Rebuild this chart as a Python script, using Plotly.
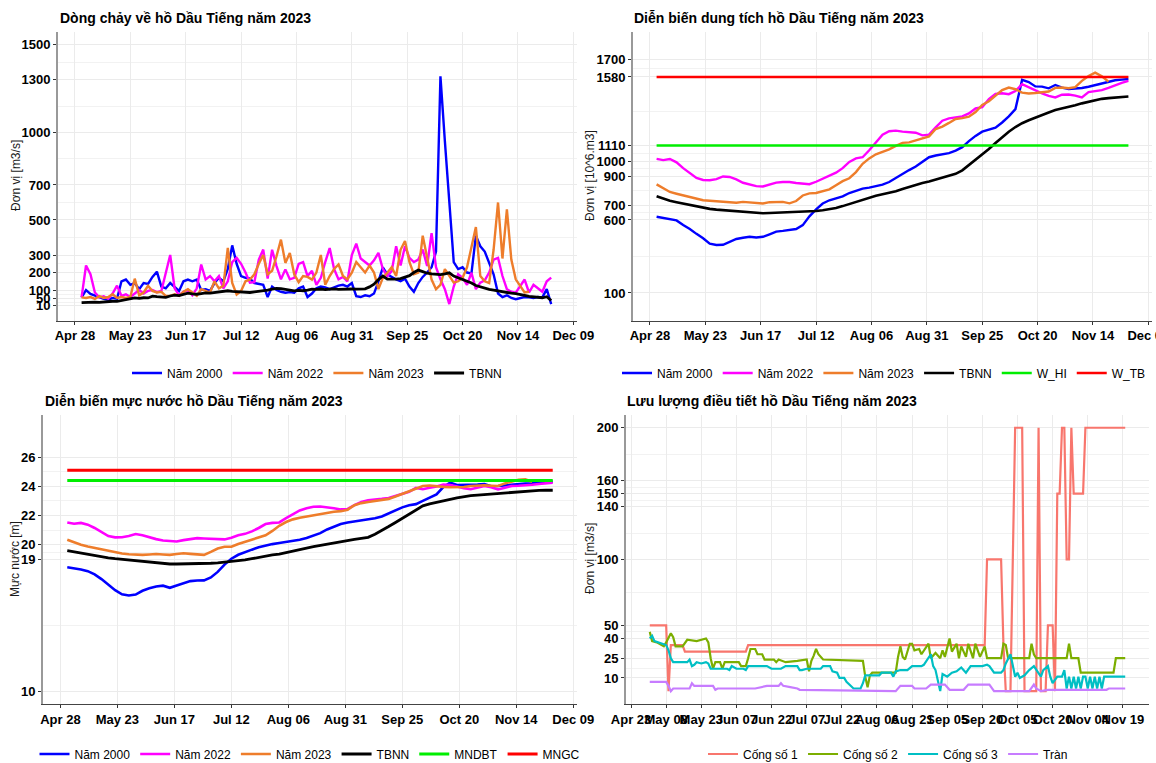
import pandas as pd
import plotly.graph_objects as go

START = "2023-05-01"

# ---------------- Panel 1: inflow (m3/s), one value every 2 days from May 1 ----------------
q_2000 = [58, 100, 78, 68, 60, 50, 45, 55, 50, 150,
          160, 130, 140, 105, 140, 135, 175, 205, 120, 110,
          140, 120, 95, 150, 160, 150, 160, 100, 105, 95,
          140, 170, 150, 220, 355, 250, 180, 170, 165, 140,
          135, 130, 60, 120, 100, 90, 85, 88, 85, 110,
          120, 60, 80, 110, 120, 115, 105, 115, 125, 130,
          120, 140, 65, 60, 70, 65, 80, 150, 230, 190,
          175, 160, 150, 165, 120, 90, 140, 175, 200, 230,
          320, 1320, 950, 600, 260, 220, 230, 200, 195, 410,
          350, 320, 260, 190, 80, 60, 70, 55, 48, 55,
          60, 58, 55, 60, 58, 105, 20]
q_2022 = [58, 240, 190, 86, 58, 65, 50, 80, 125, 67,
          76, 60, 80, 100, 80, 95, 100, 88, 95, 190,
          300, 110, 70, 90, 100, 70, 110, 246, 160, 180,
          150, 180, 110, 150, 260, 284, 250, 200, 142, 145,
          274, 331, 165, 330, 237, 161, 218, 161, 170, 250,
          260, 180, 210, 130, 170, 260, 340, 220, 161, 175,
          150, 300, 365, 280, 260, 240, 270, 312, 220, 180,
          208, 350, 240, 350, 284, 260, 274, 331, 237, 425,
          230, 161, 105, 20, 120, 190, 170, 130, 199, 105,
          142, 155, 200, 274, 284, 180, 105, 90, 85, 124,
          160, 86, 130, 110, 90, 150, 171]
q_2023 = [58, 55, 60, 50, 65, 55, 60, 76, 55, 60,
          55, 60, 165, 70, 86, 124, 95, 86, 90, 67,
          67, 76, 67, 90, 105, 86, 67, 105, 95, 86,
          150, 110, 124, 340, 140, 75, 95, 150, 160, 190,
          250, 300, 190, 210, 293, 388, 255, 312, 190, 145,
          180, 175, 160, 200, 300, 130, 180, 220, 246, 180,
          161, 199, 260, 230, 200, 240, 200, 105, 170, 199,
          230, 180, 330, 380, 260, 190, 199, 410, 274, 160,
          105, 130, 220, 180, 142, 150, 170, 230, 350, 460,
          180, 150, 140, 330, 600, 280, 560, 274, 161, 124,
          86, 90]
q_tbnn = [28, 30, 29, 31, 30, 33, 32, 36, 35, 40,
          43, 48, 55, 52, 56, 55, 65, 62, 60, 58,
          66, 71, 68, 75, 82, 78, 76, 80, 84, 82,
          86, 90, 94, 96, 92, 90, 92, 88, 86, 90,
          92, 96, 100, 105, 110, 108, 104, 96, 95, 98,
          96, 100, 105, 104, 106, 103, 105, 107, 104, 106,
          104, 106, 105, 104, 107, 118, 133, 160, 180, 162,
          160, 162, 165, 172, 182, 200, 214, 205, 196, 192,
          190, 188, 192, 198, 180, 170, 162, 150, 140, 126,
          118, 108, 104, 100, 95, 90, 86, 82, 80, 77,
          70, 64, 62, 58, 56, 62, 40]

# ---------------- Panel 2: storage (10^6 m3), one value every 3 days from May 1 ----------------
v_2000 = [622, 614, 606, 597, 565, 538, 505, 475, 438, 429,
          430, 450, 470, 478, 485, 480, 485, 502, 520, 525,
          529, 538, 565, 625, 672, 713, 735, 750, 762, 785,
          802, 815, 822, 830, 842, 860, 888, 915, 942, 966,
          995, 1030, 1042, 1049, 1058, 1075, 1099, 1140, 1176, 1205,
          1218, 1232, 1268, 1310, 1360, 1560, 1545, 1515, 1514, 1502,
          1525, 1507, 1497, 1500, 1504, 1513, 1524, 1539, 1550, 1557,
          1562, 1566]
v_2022 = [1019, 1010, 1018, 995, 955, 922, 888, 874, 872, 880,
          898, 895, 878, 855, 844, 832, 830, 842, 856, 860,
          860, 853, 848, 845, 862, 884, 902, 924, 955, 998,
          1022, 1030, 1078, 1130, 1185, 1208, 1212, 1205, 1203, 1198,
          1180, 1185, 1235, 1280, 1296, 1303, 1310, 1330, 1364, 1373,
          1428, 1463, 1468, 1462, 1484, 1530, 1508, 1490, 1468, 1450,
          1440, 1458, 1460, 1452, 1440, 1476, 1483, 1490, 1505, 1525,
          1540, 1553]
v_2023 = [844, 818, 792, 780, 770, 757, 745, 735, 732, 728,
          723, 719, 718, 724, 721, 717, 713, 722, 724, 724,
          714, 730, 768, 782, 785, 795, 810, 838, 866, 886,
          928, 985, 1022, 1050, 1068, 1084, 1108, 1128, 1132, 1144,
          1158, 1172, 1223, 1240, 1265, 1292, 1298, 1308, 1340, 1388,
          1414, 1450, 1490, 1507, 1496, 1473, 1467, 1470, 1477, 1480,
          1505, 1508, 1503, 1510, 1553, 1587, 1609, 1585, 1548]
v_tbnn = [763, 746, 732, 722, 713, 701, 690, 683, 676, 671,
          667, 663, 658, 653, 650, 646, 646, 648, 650, 651,
          652, 653, 654, 657, 662, 667, 674, 682, 695, 709,
          724, 740, 753, 766, 776, 786, 797, 812, 827, 840,
          853, 864, 876, 888, 899, 916, 940, 977, 1011, 1045,
          1087, 1128, 1168, 1205, 1237, 1263, 1283, 1302, 1318, 1336,
          1353, 1363, 1373, 1386, 1399, 1411, 1422, 1430, 1435, 1439,
          1443, 1446]
W_HI = 1110
W_TB = 1580

# ---------------- Panel 3: water level (m), one value every 3 days from May 1 ----------------
l_2000 = [18.47, 18.42, 18.32, 18.20, 17.98, 17.66, 17.28, 16.90, 16.62, 16.54,
          16.60, 16.86, 17.03, 17.15, 17.21, 17.06, 17.22, 17.38, 17.52, 17.56,
          17.57, 17.77, 18.15, 18.65, 19.05, 19.32, 19.52, 19.67, 19.83, 19.95,
          20.05, 20.12, 20.19, 20.26, 20.35, 20.46, 20.62, 20.80, 21.05, 21.25,
          21.42, 21.52, 21.59, 21.65, 21.72, 21.82, 21.94, 22.15, 22.38, 22.56,
          22.70, 22.78, 23.00, 23.20, 23.45, 23.95, 24.25, 24.09, 24.09, 24.08,
          24.12, 24.16, 24.00, 24.02, 24.07, 24.11, 24.15, 24.18, 24.21, 24.27,
          24.30, 24.32]
l_2022 = [21.53, 21.44, 21.50, 21.38, 21.15, 20.88, 20.60, 20.51, 20.52, 20.60,
          20.74, 20.66, 20.52, 20.39, 20.30, 20.24, 20.23, 20.32, 20.40, 20.46,
          20.43, 20.40, 20.36, 20.37, 20.48, 20.65, 20.75, 20.92, 21.15, 21.42,
          21.50, 21.53, 21.82, 22.10, 22.35, 22.50, 22.60, 22.62, 22.58, 22.50,
          22.42, 22.45, 22.71, 22.93, 23.05, 23.12, 23.14, 23.20, 23.35, 23.48,
          23.62, 23.89, 23.80, 23.90, 23.98, 24.12, 24.08, 23.98, 23.86, 23.80,
          23.90, 24.02, 23.94, 23.78, 23.90, 24.02, 24.04, 24.06, 24.11, 24.16,
          24.21, 24.25]
l_2023 = [20.35, 20.17, 20.00, 19.88, 19.78, 19.70, 19.60, 19.49, 19.41, 19.36,
          19.33, 19.31, 19.34, 19.37, 19.34, 19.31, 19.37, 19.42, 19.38, 19.35,
          19.31, 19.52, 19.75, 19.87, 19.87, 20.06, 20.21, 20.33, 20.48, 20.65,
          20.95, 21.30, 21.56, 21.74, 21.85, 21.93, 21.99, 22.12, 22.20, 22.26,
          22.30, 22.40, 22.71, 22.85, 22.93, 23.00, 23.07, 23.14, 23.30, 23.48,
          23.67, 23.84, 24.02, 24.05, 23.98, 23.96, 23.93, 23.92, 23.95, 24.02,
          24.07, 24.07, 24.04, 24.02, 24.20, 24.31, 24.45, 24.47, 24.30]
l_tbnn = [19.60, 19.51, 19.42, 19.35, 19.28, 19.20, 19.11, 19.05, 19.00, 18.95,
          18.90, 18.85, 18.80, 18.76, 18.72, 18.69, 18.69, 18.69, 18.69, 18.69,
          18.71, 18.74, 18.77, 18.81, 18.85, 18.91, 18.97, 19.05, 19.15, 19.23,
          19.31, 19.37, 19.48, 19.60, 19.69, 19.78, 19.87, 19.96, 20.05, 20.14,
          20.22, 20.30, 20.37, 20.44, 20.51, 20.72, 20.97, 21.25, 21.53, 21.80,
          22.12, 22.38, 22.66, 22.80, 22.92, 23.02, 23.11, 23.21, 23.30, 23.36,
          23.40, 23.44, 23.48, 23.52, 23.56, 23.60, 23.63, 23.67, 23.70, 23.72,
          23.73, 23.73]
MNDBT = 24.4
MNGC = 25.1

# ---------------- Panel 4: regulated discharge (m3/s), (date, value) change points ----------------
cong1 = [("05-01", 50), ("05-08", 50), ("05-09", 0), ("05-10", 35), ("05-15", 35), ("05-16", 30),
         ("06-11", 30), ("06-12", 35), ("09-21", 35), ("09-22", 100), ("09-28", 100), ("09-29", 35),
         ("09-30", 0), ("10-02", 0), ("10-04", 200), ("10-07", 200), ("10-08", 0), ("10-13", 0),
         ("10-14", 200), ("10-15", 0), ("10-17", 0), ("10-18", 50), ("10-20", 50), ("10-21", 0),
         ("10-22", 150), ("10-23", 150), ("10-24", 200), ("10-25", 200), ("10-26", 100), ("10-27", 100),
         ("10-28", 200), ("10-29", 150), ("11-02", 150), ("11-03", 200), ("11-20", 200)]
cong2 = [("05-01", 45), ("05-02", 38), ("05-04", 37), ("05-06", 35), ("05-07", 34), ("05-08", 37),
         ("05-09", 41), ("05-10", 44), ("05-11", 41), ("05-12", 34), ("05-15", 34), ("05-16", 37),
         ("05-17", 39), ("05-21", 38), ("05-23", 39), ("05-25", 40), ("05-26", 37), ("05-27", 25),
         ("05-28", 17), ("05-29", 22), ("05-31", 22), ("06-01", 17), ("06-02", 22), ("06-08", 22),
         ("06-09", 19), ("06-11", 19), ("06-12", 25), ("06-13", 32), ("06-15", 32), ("06-16", 28),
         ("06-18", 28), ("06-19", 24), ("06-23", 24), ("06-24", 22), ("06-25", 24), ("06-27", 23),
         ("06-28", 22), ("07-03", 23), ("07-07", 24), ("07-08", 15), ("07-09", 23), ("07-10", 27),
         ("07-11", 32), ("07-12", 28), ("07-14", 24), ("07-31", 23), ("08-01", 11), ("08-02", 3),
         ("08-03", 12), ("08-04", 14), ("08-14", 14), ("08-15", 26), ("08-16", 34), ("08-17", 26),
         ("08-18", 24), ("08-20", 36), ("08-21", 36), ("08-22", 31), ("08-24", 32), ("08-25", 28),
         ("08-26", 31), ("08-28", 36), ("08-29", 25), ("08-31", 29), ("09-02", 25), ("09-03", 31),
         ("09-04", 26), ("09-05", 33), ("09-06", 40), ("09-07", 30), ("09-09", 36), ("09-10", 25),
         ("09-11", 34), ("09-13", 26), ("09-14", 36), ("09-16", 25), ("09-17", 36), ("09-19", 26),
         ("09-21", 34), ("09-22", 25), ("09-28", 25), ("09-29", 36), ("09-30", 35), ("10-01", 25),
         ("10-10", 25), ("10-11", 36), ("10-12", 28), ("10-13", 25), ("10-26", 25), ("10-27", 36),
         ("10-28", 25), ("10-31", 25), ("11-01", 14), ("11-15", 14), ("11-16", 25), ("11-20", 25)]
cong3 = [("05-01", 40), ("05-02", 42), ("05-03", 38), ("05-05", 37), ("05-07", 36), ("05-08", 35),
         ("05-09", 31), ("05-10", 25), ("05-11", 22), ("05-17", 22), ("05-18", 24), ("05-19", 19),
         ("05-20", 20), ("05-21", 22), ("05-23", 21), ("05-25", 22), ("05-26", 21), ("05-27", 17),
         ("06-03", 17), ("06-04", 16), ("06-05", 19), ("06-07", 17), ("06-10", 17), ("06-11", 16),
         ("06-12", 19), ("06-14", 19), ("06-20", 19), ("06-22", 17), ("06-26", 17), ("06-28", 19),
         ("07-03", 19), ("07-04", 16), ("07-05", 16), ("07-07", 17), ("07-13", 17), ("07-14", 19),
         ("07-17", 19), ("07-18", 15), ("07-20", 14), ("07-21", 10), ("07-23", 10), ("07-24", 7),
         ("07-27", 2), ("07-30", 2), ("07-31", 6), ("08-01", 12), ("08-07", 12), ("08-08", 14),
         ("08-12", 14), ("08-13", 11), ("08-14", 15), ("08-16", 16), ("08-19", 16), ("08-21", 19),
         ("08-25", 19), ("08-26", 20), ("08-28", 25), ("08-29", 28), ("08-30", 19), ("08-31", 16),
         ("09-02", 0), ("09-03", 13), ("09-05", 11), ("09-07", 14), ("09-09", 15), ("09-11", 18),
         ("09-13", 14), ("09-15", 19), ("09-18", 19), ("09-20", 19), ("09-22", 20), ("09-23", 19),
         ("09-25", 14), ("09-28", 14), ("09-29", 16), ("09-30", 21), ("10-02", 28), ("10-03", 19),
         ("10-04", 11), ("10-05", 14), ("10-06", 10), ("10-08", 12), ("10-10", 16), ("10-12", 19),
         ("10-14", 14), ("10-15", 11), ("10-16", 16), ("10-18", 19), ("10-19", 11), ("10-20", 6),
         ("10-22", 11), ("10-24", 11), ("10-25", 16), ("10-26", 2), ("10-27", 11), ("10-28", 2),
         ("10-29", 11), ("10-30", 2), ("10-31", 11), ("11-01", 2), ("11-02", 11), ("11-03", 11),
         ("11-04", 2), ("11-05", 11), ("11-06", 2), ("11-07", 11), ("11-08", 2), ("11-09", 11),
         ("11-10", 2), ("11-11", 11), ("11-20", 11)]
tran = [("05-01", 7), ("05-08", 7), ("05-09", 4), ("05-10", 0), ("05-11", 2), ("05-18", 2),
        ("05-19", 6), ("05-20", 4), ("05-28", 4), ("05-29", 1), ("05-30", 2), ("06-15", 2),
        ("06-20", 4), ("06-25", 4), ("06-26", 6), ("06-27", 4), ("06-30", 3), ("07-03", 2),
        ("07-04", 1), ("08-14", 0), ("08-16", 4), ("08-21", 4), ("08-22", 2), ("08-27", 2),
        ("08-29", 5), ("09-04", 5), ("09-06", 1), ("09-12", 1), ("09-14", 5), ("09-23", 5),
        ("09-25", 0), ("10-10", 0), ("10-12", 5), ("10-13", 2), ("10-15", 0), ("10-18", 1),
        ("11-12", 1), ("11-13", 2), ("11-20", 2)]

# ---------------- Axis ticks ----------------
x13_ticks = ["2023-04-28", "2023-05-23", "2023-06-17", "2023-07-12", "2023-08-06",
             "2023-08-31", "2023-09-25", "2023-10-20", "2023-11-14", "2023-12-09"]
x4_ticks = ["2023-04-23", "2023-05-08", "2023-05-23", "2023-06-07", "2023-06-22",
            "2023-07-07", "2023-07-22", "2023-08-06", "2023-08-21", "2023-09-05",
            "2023-09-20", "2023-10-05", "2023-10-20", "2023-11-04", "2023-11-19"]
y1_ticks = [10, 50, 100, 200, 300, 500, 700, 1000, 1300, 1500]
y1_minor = [30, 75, 150, 250, 400, 600, 850, 1150, 1400]
y2_ticks = [100, 600, 700, 900, 1000, 1110, 1580, 1700]
y2_minor = [350, 650, 800, 950, 1055, 1345, 1640]
y3_ticks = [10, 19, 20, 22, 24, 26]
y3_minor = [14.5, 19.5, 21, 23, 25]
y4_ticks = [10, 25, 40, 50, 100, 140, 150, 160, 200]
y4_minor = [17.5, 32.5, 45, 75, 120, 145, 155, 180]

# ---------------- Helpers ----------------
W, H = 1156, 763
FONT = "Liberation Sans, Arial, sans-serif"


def grid(values, step):
    return pd.date_range(START, periods=len(values), freq=f"{step}D")


def pairs_x(pairs):
    return ["2023-" + d for d, _ in pairs]


def pairs_y(pairs):
    return [v for _, v in pairs]


def fx(p):
    return p / W


def fy(p):
    return 1 - p / H


BLUE, MAG, ORG, BLK = "#0000FF", "#FF00FF", "#EE7D2B", "#000000"
GRN, RED = "#00EE00", "#FF0000"
C1, C2, C3, C4 = "#F8766D", "#7CAE00", "#00BFC4", "#C77CFF"

fig = go.Figure()


def add(x, y, name, color, ax, leg, width=2.4):
    fig.add_trace(go.Scatter(x=x, y=y, mode="lines", name=name,
                             line=dict(color=color, width=width),
                             xaxis="x" + ax, yaxis="y" + ax, legend=leg,
                             hoverinfo="skip"))


# Panel 1
add(grid(q_2000, 2), q_2000, "Năm 2000", BLUE, "", "legend")
add(grid(q_2022, 2), q_2022, "Năm 2022", MAG, "", "legend")
add(grid(q_2023, 2), q_2023, "Năm 2023", ORG, "", "legend")
add(grid(q_tbnn, 2), q_tbnn, "TBNN", BLK, "", "legend", 2.8)

# Panel 2
d3 = grid(v_2000, 3)
add(d3, v_2000, "Năm 2000", BLUE, "2", "legend2")
add(grid(v_2022, 3), v_2022, "Năm 2022", MAG, "2", "legend2")
add(grid(v_2023, 3), v_2023, "Năm 2023", ORG, "2", "legend2")
add(grid(v_tbnn, 3), v_tbnn, "TBNN", BLK, "2", "legend2", 2.6)
add([d3[0], d3[-1]], [W_HI, W_HI], "W_HI", GRN, "2", "legend2", 2.6)
add([d3[0], d3[-1]], [W_TB, W_TB], "W_TB", RED, "2", "legend2", 2.6)

# Panel 3
add(grid(l_2000, 3), l_2000, "Năm 2000", BLUE, "3", "legend3", 2.6)
add(grid(l_2022, 3), l_2022, "Năm 2022", MAG, "3", "legend3", 2.6)
add(grid(l_2023, 3), l_2023, "Năm 2023", ORG, "3", "legend3", 2.6)
add(grid(l_tbnn, 3), l_tbnn, "TBNN", BLK, "3", "legend3", 2.8)
add([d3[0], d3[-1]], [MNDBT, MNDBT], "MNDBT", GRN, "3", "legend3", 3)
add([d3[0], d3[-1]], [MNGC, MNGC], "MNGC", RED, "3", "legend3", 3)

# Panel 4
add(pairs_x(cong1), pairs_y(cong1), "Cống số 1", C1, "4", "legend4", 2.2)
add(pairs_x(cong2), pairs_y(cong2), "Cống số 2", C2, "4", "legend4", 2.2)
add(pairs_x(cong3), pairs_y(cong3), "Cống số 3", C3, "4", "legend4", 2.2)
add(pairs_x(tran), pairs_y(tran), "Tràn", C4, "4", "legend4", 2.2)

TICKFONT = dict(family=FONT, size=13, color="black", weight="bold")


def xax(domain, rng, ticks, anchor):
    return dict(type="date", domain=domain, range=rng, tickvals=ticks, tickformat="%b %d",
                tickangle=0, anchor=anchor, showgrid=True, gridcolor="#EBEBEB", gridwidth=1,
                showline=True, linecolor="#444444", linewidth=1.2,
                ticks="outside", ticklen=3, tickcolor="#333333", tickwidth=1,
                tickfont=TICKFONT, zeroline=False, automargin=False,
                ticklabeloverflow="allow")


def yax(domain, rng, ticks, minor, anchor):
    return dict(domain=domain, range=rng, tickvals=ticks, anchor=anchor,
                showgrid=True, gridcolor="#EBEBEB", gridwidth=1,
                minor=dict(tickvals=minor, showgrid=True, gridcolor="#F2F2F2", gridwidth=0.7),
                showline=True, linecolor="#999999", linewidth=1.8,
                ticks="outside", ticklen=3, tickcolor="#333333", tickwidth=1,
                tickfont=TICKFONT, zeroline=False, automargin=False)


XR13 = ["2023-04-20 08:24", "2023-12-10 15:36"]
XR4 = ["2023-04-20 20:24", "2023-11-30 03:36"]

TOP = [fy(320.7), fy(31.7)]
BOT = [fy(704.3), fy(414.6)]

legend_common = dict(orientation="h", xanchor="center",
                     font=dict(family=FONT, size=12, color="black"),
                     bgcolor="rgba(0,0,0,0)", itemwidth=30, tracegroupgap=0)

fig.update_layout(
    width=W, height=H, margin=dict(l=0, r=0, t=0, b=0, autoexpand=False),
    paper_bgcolor="white", plot_bgcolor="white",
    font=dict(family=FONT, color="black"),
    xaxis=xax([fx(58), fx(577)], XR13, x13_ticks, "y"),
    yaxis=yax(TOP, [-75, 1575], y1_ticks, y1_minor, "x"),
    xaxis2=xax([fx(633), fx(1152)], XR13, x13_ticks, "y2"),
    yaxis2=yax(TOP, [-90, 1890], y2_ticks, y2_minor, "x2"),
    xaxis3=xax([fx(43), fx(577)], XR13, x13_ticks, "y3"),
    yaxis3=yax(BOT, [9.1, 28.9], y3_ticks, y3_minor, "x3"),
    xaxis4=xax([fx(626), fx(1149)], XR4, x4_ticks, "y4"),
    yaxis4=yax(BOT, [-10, 210], y4_ticks, y4_minor, "x4"),
    legend=dict(legend_common, x=fx(317), y=fy(373), yanchor="middle"),
    legend2=dict(legend_common, x=fx(884), y=fy(373), yanchor="middle"),
    legend3=dict(legend_common, x=fx(310), y=fy(754), yanchor="middle"),
    legend4=dict(legend_common, x=fx(888), y=fy(754), yanchor="middle"),
    showlegend=True,
)

titles = [("Dòng chảy về hồ Dầu Tiếng năm 2023", 58, 18),
          ("Diễn biến dung tích hồ Dầu Tiếng năm 2023", 632, 18),
          ("Diễn biến mực nước hồ Dầu Tiếng năm 2023", 43, 401),
          ("Lưu lượng điều tiết hồ Dầu Tiếng năm 2023", 625, 401)]
for text, px, py in titles:
    fig.add_annotation(text=text, xref="paper", yref="paper", x=fx(px), y=fy(py),
                       xanchor="left", yanchor="middle", showarrow=False,
                       font=dict(family=FONT, size=14, color="black", weight="bold"))

ytitles = [("Đơn vị [m3/s]", 16, 176),
           ("Đơn vị [10^6.m3]", 590, 176),
           ("Mực nước [m]", 15, 559),
           ("Đơn vị [m3/s]", 590, 559)]
for text, px, py in ytitles:
    fig.add_annotation(text=text, xref="paper", yref="paper", x=fx(px), y=fy(py),
                       xanchor="center", yanchor="middle", showarrow=False, textangle=-90,
                       font=dict(family=FONT, size=12, color="#1a1a1a"))

fig.write_html("out.html", config={"displayModeBar": False},
               post_script="document.body.style.margin='0';document.body.style.overflow='hidden';")
